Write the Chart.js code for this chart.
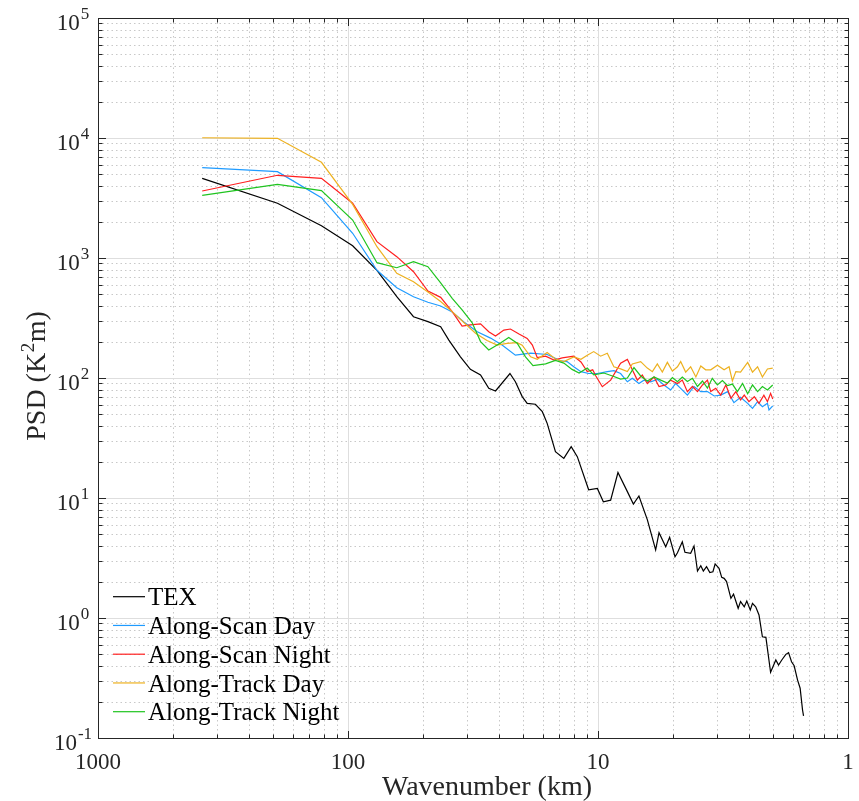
<!DOCTYPE html>
<html><head><meta charset="utf-8">
<script src="https://cdn.jsdelivr.net/npm/chart.js@4.4.1/dist/chart.umd.min.js"></script>
<style>html,body{margin:0;padding:0;background:#fff}#wrap{width:859px;height:801px;position:relative}</style>
</head><body><div id="wrap"><canvas id="c"></canvas></div>
<script>
// ---- data (wavelength in km, PSD in K^2 m) ----
const wavelengthTEX = [383, 191.5, 127.7, 95.8, 76.6, 63.8, 54.7, 47.9, 42.6, 39.5, 35.5, 32.4, 29.5, 27.35, 25.7, 22.5, 21.4, 20.1, 19.2, 17.8, 16.7, 15.97, 14.8, 13.7, 12.8, 12.1, 10.9, 10.06, 9.52, 8.90, 8.32, 7.63, 7.22, 6.86, 6.35, 5.88, 5.70, 5.36, 5.17, 4.92, 4.81, 4.60, 4.49, 4.26, 4.13, 4.00, 3.88, 3.79, 3.68, 3.57, 3.47, 3.40, 3.28, 3.20, 3.13, 3.06, 2.94, 2.87, 2.75, 2.69, 2.60, 2.54, 2.46, 2.41, 2.34, 2.27, 2.20, 2.13, 2.04, 1.944, 1.896, 1.84, 1.773, 1.729, 1.682, 1.642, 1.591, 1.554, 1.520, 1.506];
const psdTEX = [4613, 2857, 1858, 1266, 790, 476, 324, 295, 268, 207, 150, 118, 106, 82, 78, 109, 93, 70, 61.5, 60.4, 52.4, 41.9, 24.3, 21.4, 26.8, 22.1, 11.7, 12.0, 9.3, 9.6, 16.3, 11.3, 8.9, 10.4, 6.6, 3.69, 5.14, 3.93, 4.70, 3.24, 3.50, 4.32, 3.53, 3.46, 3.98, 2.46, 2.73, 2.46, 2.68, 2.39, 2.43, 2.82, 2.59, 2.18, 2.14, 2.01, 1.46, 1.58, 1.205, 1.37, 1.24, 1.386, 1.166, 1.326, 1.24, 1.06, 0.698, 0.69, 0.353, 0.447, 0.406, 0.447, 0.498, 0.514, 0.432, 0.40, 0.304, 0.26, 0.171, 0.153];

const wavelengthScanDay = [383, 191.5, 127.7, 95.8, 76.6, 63.8, 54.7, 47.9, 42.6, 38.3, 34.4, 30.4, 26.9, 24.2, 21.4, 18.6, 15.97, 14.1, 13.3, 12.5, 11.7, 10.9, 10.06, 9.18, 8.64, 8.12, 7.63, 7.29, 6.86, 6.55, 6.16, 5.79, 5.45, 5.12, 4.89, 4.67, 4.39, 4.13, 3.88, 3.65, 3.43, 3.23, 3.03, 2.86, 2.69, 2.52, 2.41, 2.30, 2.20, 2.10, 2.07, 2.00];
const psdScanDay = [5655, 5240, 3180, 1607, 790, 565, 476, 428, 398, 355, 293, 243, 215, 188, 155, 161, 157, 139, 137, 124, 113, 109, 109, 113, 115, 109, 93, 99.4, 90, 96, 93, 97.5, 87.5, 79.4, 90, 82, 72, 85, 77, 77, 70.8, 72, 77, 62.3, 69, 61.5, 55.9, 63.5, 57.7, 61.5, 54.1, 58.5];

const wavelengthScanNight = [383, 191.5, 127.7, 95.8, 76.6, 63.8, 54.7, 47.9, 42.6, 38.3, 34.96, 32.4, 29.5, 27.35, 25.7, 23.8, 22.4, 20.7, 19.2, 18.3, 17.5, 16.2, 15.0, 13.9, 12.5, 11.7, 11.04, 10.5, 10.2, 9.61, 8.90, 8.12, 7.63, 7.29, 6.96, 6.65, 6.35, 5.97, 5.70, 5.36, 5.12, 4.81, 4.60, 4.39, 4.19, 4.00, 3.82, 3.65, 3.54, 3.38, 3.23, 3.08, 2.94, 2.81, 2.69, 2.60, 2.49, 2.37, 2.27, 2.17, 2.10, 2.04, 2.00];
const psdScanNight = [3615, 4890, 4613, 2860, 1368, 1026, 769, 530, 470, 357, 271, 277, 283, 243, 224, 251, 256, 233, 214, 188, 148, 152, 141, 147, 152, 136, 113, 117, 104, 84.6, 96, 133, 143, 117, 96, 106, 90, 102, 85, 87.5, 96, 90, 96, 77, 85, 77, 87.5, 96, 77, 82, 72, 87.5, 67.8, 77, 65.6, 72, 63.5, 69.8, 61.5, 72, 63.5, 74.5, 66.8];

const wavelengthTrackDay = [383, 191.5, 127.7, 95.8, 76.6, 63.8, 54.7, 47.9, 42.6, 38.3, 34.4, 30.9, 27.8, 25.3, 23.1, 21.05, 20.1, 18.6, 17.5, 15.97, 14.8, 13.7, 12.5, 11.7, 11.04, 10.4, 9.76, 9.18, 8.64, 8.12, 7.63, 7.29, 6.75, 6.35, 6.06, 5.79, 5.53, 5.28, 5.04, 4.81, 4.67, 4.46, 4.26, 4.06, 3.88, 3.71, 3.54, 3.33, 3.13, 2.99, 2.90, 2.81, 2.69, 2.52, 2.41, 2.30, 2.20, 2.10, 2.00];
const psdTrackDay = [10050, 9940, 6275, 2800, 1242, 746, 635, 520, 434, 357, 290, 236, 205, 188, 194, 197, 188, 150, 143, 163, 144, 137, 150, 143, 155, 166, 152, 161, 124, 119, 113, 131, 137, 121, 113, 131, 112, 135, 114, 124, 137, 112, 124, 102, 126, 117, 117, 128, 117, 124, 94.4, 113, 112, 135, 112, 124, 102, 119, 121];

const wavelengthTrackNight = [383, 191.5, 127.7, 95.8, 76.6, 63.8, 54.7, 47.9, 42.6, 38.3, 34.96, 31.9, 29.5, 27.35, 24.55, 22.75, 21.05, 19.5, 18.2, 16.2, 14.8, 13.7, 12.7, 11.9, 11.04, 10.4, 9.47, 8.64, 8.12, 7.63, 7.18, 6.75, 6.35, 5.97, 5.61, 5.28, 5.04, 4.81, 4.60, 4.39, 4.19, 4.00, 3.82, 3.65, 3.49, 3.33, 3.18, 3.03, 2.90, 2.77, 2.64, 2.52, 2.41, 2.30, 2.20, 2.10, 2.00];
const psdTrackNight = [3331, 4110, 3640, 2073, 914, 830, 931, 846, 620, 461, 369, 290, 201, 171, 196, 218, 195, 150, 127, 131, 140, 133, 118, 110, 121, 106, 110, 103, 98, 100, 122, 104, 94.4, 102, 96, 90.8, 101, 93, 102, 93.5, 99.4, 85, 94.4, 82.5, 99.4, 87.5, 95.4, 86.4, 89, 77, 90, 74, 87.5, 77, 85, 79.4, 87.5];

const seriesLabels = ['TEX', 'Along-Scan Day', 'Along-Scan Night', 'Along-Track Day', 'Along-Track Night'];
const seriesColors = ['#000000', '#1f9bff', '#ff1f1f', '#edb120', '#1fc41f'];

// axis ticks (x axis is wavenumber in 1/km, labelled with the wavelength)
const xTickValues = [0.001, 0.01, 0.1, 1];
const xTickLabels = ['1000', '100', '10', '1'];
const yTickValues = [0.1, 1, 10, 100, 1000, 10000, 100000];
const yTickExponents = ['-1', '0', '1', '2', '3', '4', '5'];
const xTitle = 'Wavenumber (km)';
const yTitleParts = ['PSD (K', '2', 'm)'];

// ---- chart ----
const FONT = '"Liberation Serif", "Times New Roman", serif';
const AXIS = '#262626';
const toPoints = (wl, psd) => wl.map((w, i) => ({x: 1 / w, y: psd[i]}));
const seriesData = [
  toPoints(wavelengthTEX, psdTEX),
  toPoints(wavelengthScanDay, psdScanDay),
  toPoints(wavelengthScanNight, psdScanNight),
  toPoints(wavelengthTrackDay, psdTrackDay),
  toPoints(wavelengthTrackNight, psdTrackNight)
];

function drawPow(ctx, exp, cx, py) {
  ctx.font = '23px ' + FONT; const w1 = ctx.measureText('10').width;
  ctx.font = '17px ' + FONT; const w2 = ctx.measureText(exp).width;
  const x0 = cx - (w1 + w2 + 1) / 2;
  ctx.textAlign = 'left';
  ctx.font = '23px ' + FONT; ctx.fillText('10', x0, py + 12);
  ctx.font = '17px ' + FONT; ctx.fillText(exp, x0 + w1 + 1, py + 1);
}

const matlabAxes = {
  id: 'matlabAxes',
  beforeDatasetsDraw(chart) {
    const {ctx, chartArea: a, scales: {x, y}} = chart;
    ctx.save();
    ctx.lineWidth = 1;
    // minor grid (dotted)
    ctx.strokeStyle = '#c8c8c8';
    ctx.setLineDash([1.5, 3]);
    ctx.beginPath();
    for (let e = -3; e < 0; e++) for (let k = 2; k <= 9; k++) {
      const px = Math.round(x.getPixelForValue(k * Math.pow(10, e))) + 0.5;
      ctx.moveTo(px, a.top); ctx.lineTo(px, a.bottom);
    }
    for (let e = -1; e < 5; e++) for (let k = 2; k <= 9; k++) {
      const py = Math.round(y.getPixelForValue(k * Math.pow(10, e))) + 0.5;
      ctx.moveTo(a.left, py); ctx.lineTo(a.right, py);
    }
    ctx.stroke();
    // major grid
    ctx.setLineDash([]);
    ctx.strokeStyle = '#dedede';
    ctx.beginPath();
    xTickValues.forEach(v => { const px = Math.round(x.getPixelForValue(v)) + 0.5; ctx.moveTo(px, a.top); ctx.lineTo(px, a.bottom); });
    yTickValues.forEach(v => { const py = Math.round(y.getPixelForValue(v)) + 0.5; ctx.moveTo(a.left, py); ctx.lineTo(a.right, py); });
    ctx.stroke();
    ctx.restore();
  },
  afterDatasetsDraw(chart) {
    const {ctx, chartArea: a, scales: {x, y}} = chart;
    ctx.save();
    ctx.setLineDash([]);
    ctx.strokeStyle = AXIS; ctx.lineWidth = 1;
    const L = Math.round(a.left) + 0.5, R = Math.round(a.right) + 0.5, T = Math.round(a.top) + 0.5, B = Math.round(a.bottom) + 0.5;
    ctx.strokeRect(L, T, R - L, B - T);
    ctx.beginPath();
    const maj = 7.5, mnr = 4;
    for (let e = -3; e <= 0; e++) for (let k = 1; k <= 9; k++) {
      if (e === 0 && k > 1) break;
      const px = Math.round(x.getPixelForValue(k * Math.pow(10, e))) + 0.5;
      const len = k === 1 ? maj : mnr;
      ctx.moveTo(px, B); ctx.lineTo(px, B - len);
      ctx.moveTo(px, T); ctx.lineTo(px, T + len);
    }
    for (let e = -1; e <= 5; e++) for (let k = 1; k <= 9; k++) {
      if (e === 5 && k > 1) break;
      const py = Math.round(y.getPixelForValue(k * Math.pow(10, e))) + 0.5;
      const len = k === 1 ? maj : mnr;
      ctx.moveTo(L, py); ctx.lineTo(L + len, py);
      ctx.moveTo(R, py); ctx.lineTo(R - len, py);
    }
    ctx.stroke();

    // tick labels
    ctx.fillStyle = AXIS;
    ctx.textBaseline = 'alphabetic';
    ctx.font = '23px ' + FONT;
    ctx.textAlign = 'center';
    xTickValues.forEach((v, i) => ctx.fillText(xTickLabels[i], x.getPixelForValue(v), 769));
    yTickValues.forEach((v, i) => drawPow(ctx, yTickExponents[i], 73, y.getPixelForValue(v)));

    // axis titles
    ctx.font = '28px ' + FONT;
    ctx.textAlign = 'center';
    ctx.fillText(xTitle, 487, 795);

    ctx.save();
    ctx.translate(45, 376);
    ctx.rotate(-Math.PI / 2);
    ctx.textAlign = 'left';
    ctx.font = '28px ' + FONT; const w1 = ctx.measureText(yTitleParts[0]).width;
    const w3 = ctx.measureText(yTitleParts[2]).width;
    ctx.font = '19px ' + FONT; const w2 = ctx.measureText(yTitleParts[1]).width;
    let sx = -(w1 + w2 + w3 + 1) / 2;
    ctx.font = '28px ' + FONT; ctx.fillText(yTitleParts[0], sx, 0);
    ctx.font = '19px ' + FONT; ctx.fillText(yTitleParts[1], sx + w1 + 0.5, -11);
    ctx.font = '28px ' + FONT; ctx.fillText(yTitleParts[2], sx + w1 + w2 + 1, 0);
    ctx.restore();

    // legend
    ctx.font = '25px ' + FONT;
    ctx.textAlign = 'left';
    chart.data.datasets.forEach((ds, i) => {
      const ly = 596.7 + i * 28.75;
      ctx.strokeStyle = ds.borderColor; ctx.lineWidth = 1.2;
      ctx.beginPath(); ctx.moveTo(113, ly); ctx.lineTo(145, ly); ctx.stroke();
      ctx.fillStyle = '#000';
      ctx.fillText(ds.label, 148, ly + 8.6);
    });
    ctx.restore();
  }
};

new Chart(document.getElementById('c'), {
  type: 'line',
  data: {
    datasets: seriesLabels.map((lab, i) => ({
      label: lab,
      data: seriesData[i],
      borderColor: seriesColors[i],
      backgroundColor: seriesColors[i],
      borderWidth: 1.2,
      pointRadius: 0,
      tension: 0,
      fill: false,
      order: seriesLabels.length - i
    }))
  },
  options: {
    responsive: true,
    maintainAspectRatio: false,
    animation: false,
    devicePixelRatio: 1,
    layout: {padding: {top: 18, right: 11, left: 0, bottom: 0}},
    plugins: {legend: {display: false}, tooltip: {enabled: false}, title: {display: false}},
    scales: {
      x: {type: 'logarithmic', min: 0.001, max: 1,
          ticks: {display: false}, grid: {display: false, drawTicks: false}, border: {display: false},
          afterFit(s) { s.height = 63; }},
      y: {type: 'logarithmic', min: 0.1, max: 100000,
          ticks: {display: false}, grid: {display: false, drawTicks: false}, border: {display: false},
          afterFit(s) { s.width = 98; }}
    }
  },
  plugins: [matlabAxes]
});
</script></body></html>
